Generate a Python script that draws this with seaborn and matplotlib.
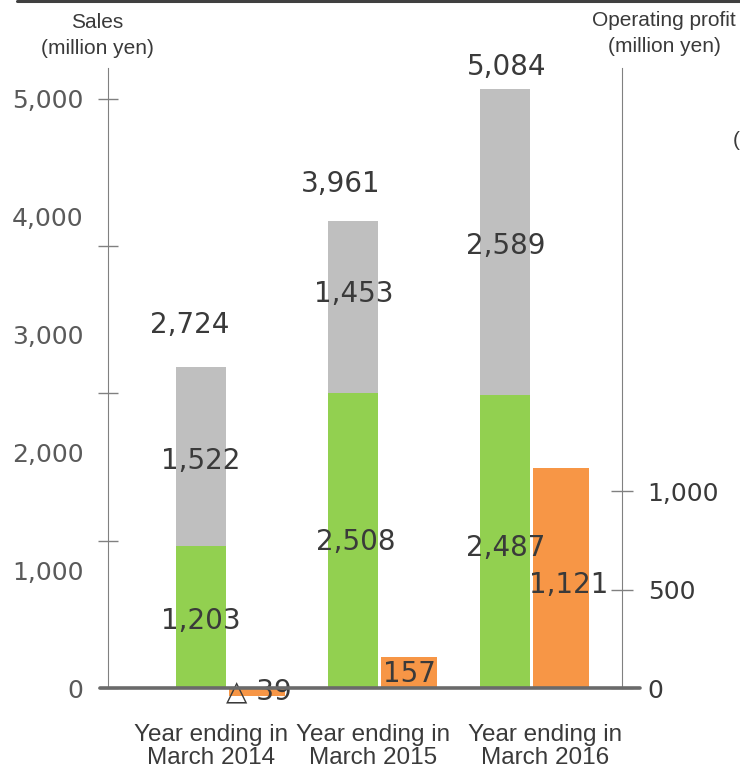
import matplotlib
matplotlib.use("Agg")
import matplotlib.pyplot as plt
import matplotlib.ticker as mticker
from matplotlib.lines import Line2D
import numpy as np
import pandas as pd
import seaborn as sns

# ---- data -------------------------------------------------------------
years = ["Year ending in\nMarch 2014", "Year ending in\nMarch 2015", "Year ending in\nMarch 2016"]
sales_green = [1203, 2508, 2487]      # lower segment of sales
sales_gray = [1522, 1453, 2589]       # upper segment of sales
sales_total = [2724, 3961, 5084]
op_profit = [-39, 157, 1121]          # operating profit (right axis)

left_label_ticks = [0, 1000, 2000, 3000, 4000, 5000]
left_mark_ticks = [0, 1250, 2500, 3750, 5000]
right_ticks = [0, 500, 1000]

# ---- styling ----------------------------------------------------------
sns.set_style("white")
plt.rcParams["font.family"] = ["DejaVu Sans"]
GREEN = "#92d050"
GRAY = "#bfbfbf"
ORANGE = "#f79646"
TXT = "#3a3a3a"
AXC = "#808080"
SANS = ["Liberation Sans", "DejaVu Sans"]
PX = 1 / 1.3889  # pixels -> points at 100 dpi

fig = plt.figure(figsize=(7.4, 7.7), dpi=100)
W, H = 740, 770
ax = fig.add_axes([108 / W, 1 - 700 / H, 514 / W, (700 - 68) / H])
ax2 = ax.twinx()
ax.set_zorder(ax2.get_zorder() + 1)
ax.patch.set_visible(False)

idx = np.arange(len(years))
off = 0.186
df = pd.DataFrame({
    "pos_g": idx - off,
    "pos_o": idx + off,
    "green": sales_green,
    "total": sales_total,
    "profit": op_profit,
})

# stacked sales: total in gray, green drawn over its lower part
sns.barplot(data=df, x="pos_g", y="total", native_scale=True, width=0.33,
            color=GRAY, saturation=1, errorbar=None, ax=ax, linewidth=0)
sns.barplot(data=df, x="pos_g", y="green", native_scale=True, width=0.33,
            color=GREEN, saturation=1, errorbar=None, ax=ax, linewidth=0)
sns.barplot(data=df, x="pos_o", y="profit", native_scale=True, width=0.37,
            color=ORANGE, saturation=1, errorbar=None, ax=ax2, linewidth=0)

# ---- scales -----------------------------------------------------------
lpx = 117.8 / 1000
rpx = 196.5 / 1000
ax.set_ylim(-12 / lpx, 620 / lpx)
ax2.set_ylim(-12 / rpx, 620 / rpx)
xl = (1 - (381 - 108) / 152, 1 + (622 - 381) / 152)
ax.set_xlim(*xl)
ax2.set_xlim(*xl)

for a in (ax, ax2):
    for s in a.spines.values():
        s.set_visible(False)
    a.set_xlabel("")
    a.set_ylabel("")
ax.spines["left"].set_visible(True)
ax.spines["left"].set_bounds(0, 620 / lpx)
ax.spines["left"].set_color(AXC)
ax2.spines["right"].set_visible(True)
ax2.spines["right"].set_bounds(0, 620 / rpx)
ax2.spines["right"].set_color(AXC)

# left axis: marks at one spacing, labels at another
ax.yaxis.remove_overlapping_locs = False
ax.yaxis.set_major_locator(mticker.FixedLocator(left_mark_ticks))
ax.yaxis.set_major_formatter(mticker.NullFormatter())
ax.yaxis.set_minor_locator(mticker.FixedLocator(left_label_ticks))
ax.yaxis.set_minor_formatter(mticker.FuncFormatter(lambda v, p: f"{int(v):,}"))
ax.tick_params(axis="y", which="major", direction="inout", length=14, width=1,
               color=AXC, left=True)
ax.tick_params(axis="y", which="minor", length=0, pad=17.5, labelsize=18,
               labelcolor="#5a5a5a", left=True)

ax2.yaxis.set_major_locator(mticker.FixedLocator(right_ticks))
ax2.yaxis.set_major_formatter(mticker.FuncFormatter(lambda v, p: f"{int(v):,}"))
ax2.yaxis.set_minor_locator(mticker.NullLocator())
ax2.tick_params(axis="y", which="major", direction="inout", length=16, width=1,
                color=AXC, pad=10.5, labelsize=18, labelcolor=TXT, right=True)

# category labels
nudge = [-0.12, -0.05, 0.08]
ax.set_xticks(idx + np.array(nudge))
ax.set_xticklabels(years, fontsize=17.5, family=SANS, color=TXT, linespacing=1.08)
ax.tick_params(axis="x", length=0, pad=17)
ax2.tick_params(axis="x", length=0, labelbottom=False)

# zero baseline
ax.axhline(0, xmin=-8 / 514, xmax=(640 - 108) / 514, color="#6a6a6a",
           lw=2.6, clip_on=False, zorder=5)

# ---- value labels -----------------------------------------------------
vfs = 20
total_off = [(-11, -42), (-12, -37), (2, -22)]
for i in idx:
    dx, dy = total_off[i]
    ax.annotate(f"{sales_total[i]:,}", (i - off, sales_total[i]),
                xytext=(dx * PX, -dy * PX), textcoords="offset points",
                ha="center", va="center", fontsize=vfs, color=TXT, zorder=6)

gray_off = [(0, 4), (1, -13), (1, 4)]
green_off = [(0, 4), (3, 2), (1, 6)]
for i in idx:
    g = sales_green[i]
    top = sales_total[i]
    dx, dy = gray_off[i]
    ax.annotate(f"{sales_gray[i]:,}", (i - off, (g + top) / 2),
                xytext=(dx * PX, -dy * PX), textcoords="offset points",
                ha="center", va="center", fontsize=vfs, color=TXT, zorder=6)
    dx, dy = green_off[i]
    ax.annotate(f"{g:,}", (i - off, g / 2),
                xytext=(dx * PX, -dy * PX), textcoords="offset points",
                ha="center", va="center", fontsize=vfs, color=TXT, zorder=6)

profit_off = [(2, 0), (0, 1), (7, 7)]
for i in idx:
    v = op_profit[i]
    s = f"{v:,}" if v >= 0 else f"\u25b3 {abs(v):,}"
    dx, dy = profit_off[i]
    ax2.annotate(s, (i + off, v / 2),
                 xytext=(dx * PX, -dy * PX), textcoords="offset points",
                 ha="center", va="center", fontsize=vfs, color=TXT, zorder=6)

# ---- axis titles and frame line ---------------------------------------
tfs = 15
fig.text(97 / W, 1 - 23 / H, "Sales", ha="center", va="center",
         fontsize=tfs, family=SANS, color=TXT)
fig.text(97 / W, 1 - 48 / H, "(million yen)", ha="center", va="center",
         fontsize=tfs, family=SANS, color=TXT)
fig.text(664 / W, 1 - 21 / H, "Operating profit", ha="center", va="center",
         fontsize=tfs, family=SANS, color=TXT)
fig.text(664 / W, 1 - 46 / H, "(million yen)", ha="center", va="center",
         fontsize=tfs, family=SANS, color=TXT)
fig.text(733 / W, 1 - 141 / H, "(", ha="left", va="center",
         fontsize=tfs, family=SANS, color=TXT)
fig.add_artist(Line2D([17 / W, 1], [1 - 1 / H, 1 - 1 / H], color="#404040",
                      lw=2.2, transform=fig.transFigure))

fig.savefig("out.png", dpi=100)
